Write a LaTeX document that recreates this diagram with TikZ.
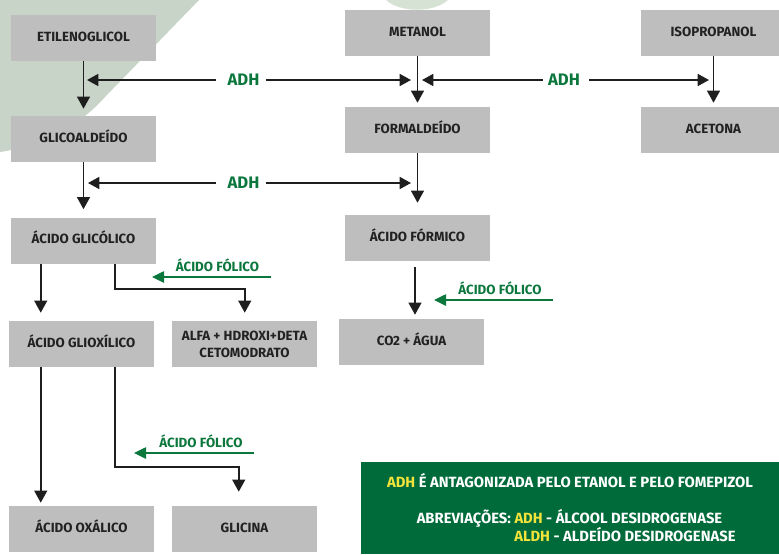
\documentclass[tikz,border=0pt]{standalone}
\usepackage{fontspec}
\setmainfont{Fira Sans}
\usetikzlibrary{arrows.meta,calc}
\definecolor{boxgray}{HTML}{BDBEBD}
\definecolor{txt}{HTML}{222222}
\definecolor{grn}{HTML}{0B773C}
\definecolor{legbg}{HTML}{006B3A}
\definecolor{yel}{HTML}{F2E43A}
\definecolor{sage}{HTML}{C9D4C8}
\definecolor{sagelight}{HTML}{D6E2D4}
\definecolor{linec}{HTML}{1E1E1E}
\begin{document}
\begin{tikzpicture}[x=0.75pt,y=-0.75pt,
 box/.style={fill=boxgray, minimum width=108.75pt, minimum height=34.5pt, inner sep=0pt, text=txt,
   font=\bfseries\fontsize{10}{12.75}\selectfont, align=center, text height=7pt, text depth=2.5pt},
 box2/.style={fill=boxgray, minimum width=108.75pt, minimum height=34.5pt, inner sep=0pt, text=txt,
   font=\bfseries\fontsize{10}{12.75}\selectfont, align=center},
 arr/.style={draw=linec, line width=1.4pt, -{Triangle[length=9pt,width=9.5pt]}},
 harr/.style={draw=linec, line width=1.2pt, -{Triangle[length=8.5pt,width=9pt]}},
 garr/.style={draw=grn, line width=1.1pt, -{Triangle[length=9pt,width=8.5pt]}},
 adhlbl/.style={text=grn, font=\bfseries\fontsize{12.5}{15}\selectfont, inner sep=0pt, text height=8.7pt, text depth=0pt},
 fol/.style={text=grn, font=\bfseries\fontsize{10}{12}\selectfont, inner sep=0pt, text height=7pt, text depth=0pt},
 legtxt/.style={text=white, font=\bfseries\fontsize{11.1}{13}\selectfont, inner sep=0pt, text height=7.7pt, text depth=0pt}
]
\useasboundingbox (0,0) rectangle (779,554);
\clip (0,0) rectangle (779,554);
% background decoration
\fill[sage] (0,0) -- (199,0) -- (105,97) .. controls (80,125) and (45,145) .. (0,152) -- cycle;
\fill[sagelight] (386,0) .. controls (400,13) and (434,13) .. (448,0) -- cycle;

% boxes
\node[box] (etil) at (83.5,38) {ETILENOGLICOL};
\node[box] (glicoal) at (83.5,139) {GLICOALDEÍDO};
\node[box] (metanol) at (417.5,33) {METANOL};
\node[box] (formal) at (417.5,130) {FORMALDEÍDO};
\node[box] (isoprop) at (713.5,33) {ISOPROPANOL};
\node[box] (aceton) at (713.5,130) {ACETONA};
\node[box] (glicolico) at (83.5,240.5) {ÁCIDO GLICÓLICO};
\node[box] (glioxilico) at (81.5,344) {ÁCIDO GLIOXÍLICO};
\node[box2] (alfa) at (244.5,344) {ALFA + HDROXI+DETA\\CETOMODRATO};
\node[box] (formico) at (417.5,238) {ÁCIDO FÓRMICO};
\node[box] (co2) at (411.5,342) {CO2 + ÁGUA};
\node[box] (oxalico) at (81.5,529) {ÁCIDO OXÁLICO};
\node[box] (glicina) at (244.5,529) {GLICINA};

% vertical arrows
\draw[arr, shorten >=5.25pt] (etil) -- (glicoal);
\draw[arr, shorten >=3pt] (metanol) -- (formal);
\draw[arr, shorten >=3pt] (isoprop) -- (aceton);
\draw[arr, shorten >=6pt] (glicoal) -- (glicolico);
\draw[arr, shorten >=9pt] (formal) -- (formico);
\draw[arr] ($(formico.south)+(-2.5,6)$) -- ($(co2.north)+(3.5,-4)$);
\draw[arr] ($(glicolico.south west)+(30,0)$) -- ($(glioxilico.north west)+(32,-8)$);
\draw[arr] ($(glicolico.south west)+(104,0)$) -- ++(0,25) -| ($(alfa.north west)+(73,-8)$);
\draw[arr] ($(glioxilico.south west)+(32,0)$) -- ($(oxalico.north west)+(32,-3)$);
\draw[arr] ($(glioxilico.south west)+(106,0)$) -- ++(0,100) -| ($(glicina.north west)+(67,-14)$);

% ADH arrows
\node[adhlbl] (adh1) at (243.5,80) {ADH};
\coordinate (t1l) at (87,80);
\coordinate (t1r) at (411,80);
\draw[harr] ($(adh1.west)+(-11,0)$) -- (t1l);
\draw[harr] ($(adh1.east)+(6,0)$) -- (t1r);

\node[adhlbl] (adh2) at (564,80) {ADH};
\coordinate (t2l) at (422,80);
\coordinate (t2r) at (709,80);
\draw[harr] ($(adh2.west)+(-5,0)$) -- (t2l);
\draw[harr] ($(adh2.east)+(9,0)$) -- (t2r);

\node[adhlbl] (adh3) at (243.5,183) {ADH};
\coordinate (t3l) at (88,183);
\coordinate (t3r) at (411,183);
\draw[harr] ($(adh3.west)+(-11,0)$) -- (t3l);
\draw[harr] ($(adh3.east)+(6,0)$) -- (t3r);

% folic acid arrows
\node[fol] (fol1) at (217.5,267) {ÁCIDO FÓLICO};
\coordinate (f1s) at (271,277);
\coordinate (f1e) at (152,277);
\draw[garr] (f1s) -- (f1e);

\node[fol] (fol2) at (500,290) {ÁCIDO FÓLICO};
\coordinate (f2s) at (553,300);
\coordinate (f2e) at (434,300);
\draw[garr] (f2s) -- (f2e);

\node[fol] (fol3) at (201,443) {ÁCIDO FÓLICO};
\coordinate (f3s) at (254,453);
\coordinate (f3e) at (134,453);
\draw[garr] (f3s) -- (f3e);

% legend
\node[fill=legbg, minimum width=313.5pt, minimum height=69pt, inner sep=0pt, anchor=north west] (leg) at (361,462) {};
\node[legtxt] (l1) at (570,482) {\textcolor{yel}{ADH} É ANTAGONIZADA PELO ETANOL E PELO FOMEPIZOL};
\node[legtxt] (l2) at (569.5,518) {ABREVIAÇÕES: \textcolor{yel}{ADH} - ÁLCOOL DESIDROGENASE};
\node[legtxt, anchor=west] (l3) at (514,536) {\textcolor{yel}{ALDH} - ALDEÍDO DESIDROGENASE};
\end{tikzpicture}
\end{document}
